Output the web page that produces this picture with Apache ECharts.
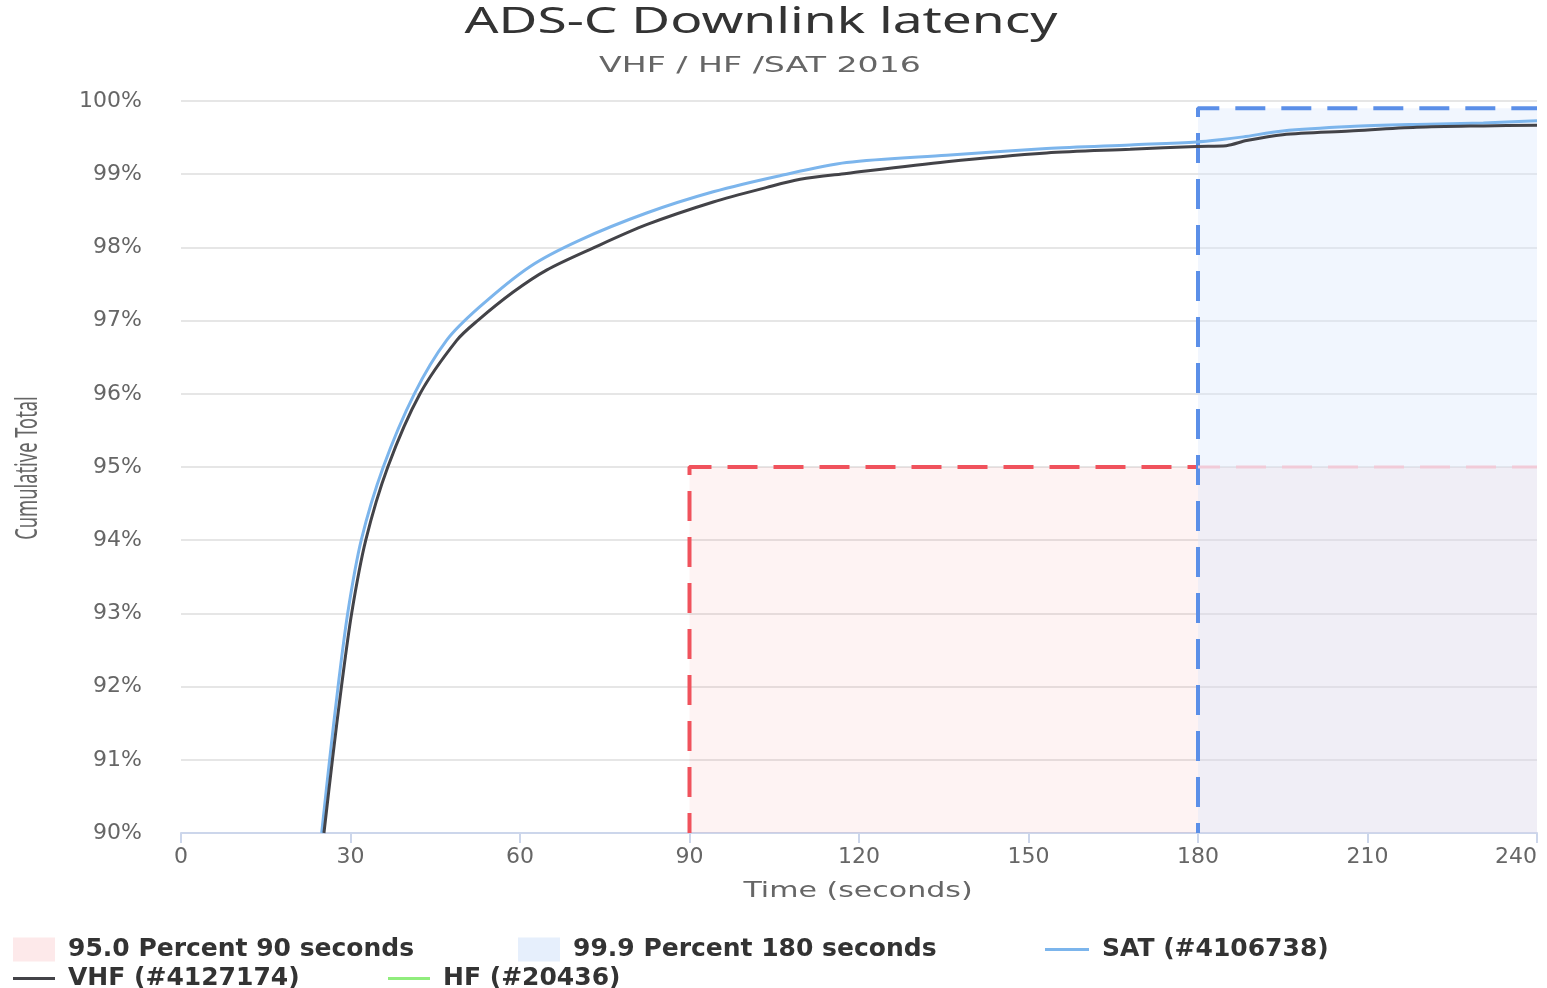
<!DOCTYPE html>
<html>
<head>
<meta charset="utf-8">
<title>ADS-C Downlink latency</title>
<script src="https://cdn.jsdelivr.net/npm/echarts@6/dist/echarts.min.js"></script>
<style>
  html, body { margin: 0; padding: 0; background: #fff; }
  #myEcharts { width: 1547px; height: 988px; }
</style>
</head>
<body>
<div id="myEcharts"></div>
<script>
// time axis ticks (seconds)
const xTicks = [0, 30, 60, 90, 120, 150, 180, 210, 240];

// VHF curve
const vhfTime = [25.3, 26.8, 28.4, 30.2, 32.7, 36.6, 42.3, 48.8, 52.5, 58.8, 64.7, 72.9, 82.4, 94.2, 103.7, 109.6, 117.8, 135.5, 153.2, 168, 179.8, 185, 188.6, 195, 206.9, 218.7, 230.5, 240];
const vhfPct = [90, 91, 92, 93, 94, 95, 96, 96.73, 97.0, 97.39, 97.69, 97.99, 98.31, 98.62, 98.82, 98.93, 99.01, 99.17, 99.29, 99.34, 99.38, 99.39, 99.46, 99.54, 99.59, 99.64, 99.66, 99.67];

// SAT curve
const satTime = [24.9, 26.3, 27.8, 29.5, 31.9, 35.8, 41.3, 47.0, 52.9, 61.8, 70.6, 82.4, 94.2, 106, 117.8, 135.5, 153.2, 168, 179.8, 183.9, 188, 195, 206.9, 218.7, 230.5, 240];
const satPct = [90, 91, 92, 93, 94, 95, 96, 96.73, 97.19, 97.74, 98.10, 98.47, 98.76, 98.98, 99.16, 99.26, 99.35, 99.40, 99.44, 99.47, 99.51, 99.59, 99.65, 99.68, 99.70, 99.73];

// HF curve: nothing visible inside the 90-100% window
const hfTime = [];
const hfPct = [];

// target bands
const p95Time = 90, p95Level = 95;
const p999Time = 180, p999Level = 99.9;
const xMin = 0, xMax = 240, yMin = 90, yMax = 100;

const legendNames = ['95.0 Percent 90 seconds', '99.9 Percent 180 seconds', 'SAT (#4106738)', 'VHF (#4127174)', 'HF (#20436)'];

function zip(xs, ys) {
    return xs.map((x, i) => [x, ys[i]]);
}

const font = 'DejaVu Sans, Verdana, sans-serif';

let chart = echarts.init(document.getElementById('myEcharts'));

function legendItem(name, left, top, icon, w, h, color) {
    return {
        data: [{ name: name, icon: icon, itemStyle: { color: color } }],
        left: left,
        top: top,
        itemWidth: w,
        itemHeight: h,
        selectedMode: false,
        textStyle: {
            fontFamily: font,
            fontWeight: 'bold',
            fontSize: 25,
            color: '#333',
            padding: [0, 0, 0, 8]
        }
    };
}

// stretched texts (the original picture is wider than its fonts)
function stretchedText(text, x, y, fontCss, color, sx, rot) {
    return {
        type: 'text',
        x: x,
        y: y,
        scaleX: sx,
        rotation: rot || 0,
        silent: true,
        style: {
            text: text,
            font: fontCss,
            fill: color,
            align: 'center',
            verticalAlign: 'middle'
        }
    };
}

chart.setOption({
    animation: false,
    backgroundColor: '#fff',
    graphic: [
        stretchedText('ADS-C Downlink latency', 761, 23, '36px "Noto Sans", sans-serif', '#333', 1.48),
        stretchedText('VHF / HF /SAT 2016', 760, 67, '21px "DejaVu Sans", sans-serif', '#666', 1.58),
        stretchedText('Time (seconds)', 858, 892, '21px "DejaVu Sans", sans-serif', '#666', 1.43),
        stretchedText('Cumulative Total', 28, 468, '30px "Noto Sans", sans-serif', '#666', 0.61, Math.PI / 2)
    ],
    legend: [
        legendItem(legendNames[0], 8, 932, 'rect', 42, 24, '#fde9ea'),
        legendItem(legendNames[1], 513, 932, 'rect', 42, 24, '#e6effc'),
        legendItem(legendNames[2], 1040, 932, 'rect', 44, 3, '#7cb5ec'),
        legendItem(legendNames[3], 8, 961, 'rect', 42, 3, '#434348'),
        legendItem(legendNames[4], 383, 961, 'rect', 42, 3, '#90ed7d')
    ],
    grid: {
        left: 181,
        right: 10,
        top: 101,
        bottom: 155,
        containLabel: false,
        outerBoundsMode: 'none'
    },
    xAxis: {
        type: 'value',
        min: xMin,
        max: xMax,
        interval: 30,
        axisLine: { show: true, lineStyle: { color: '#ccd6eb', width: 2 } },
        axisTick: { show: true, length: 10, lineStyle: { color: '#ccd6eb', width: 2 } },
        axisLabel: {
            fontFamily: font, fontSize: 22, color: '#666', margin: 13,
            alignMaxLabel: 'right',
            formatter: v => (xTicks.indexOf(v) >= 0 ? String(v) : '')
        },
        splitLine: { show: false }
    },
    yAxis: {
        type: 'value',
        min: yMin,
        max: yMax,
        interval: 1,
        axisLine: { show: false },
        axisTick: { show: false },
        axisLabel: { fontFamily: font, fontSize: 22, color: '#666', margin: 39, formatter: '{value}%' },
        splitLine: { lineStyle: { color: '#e6e6e6', width: 2 } }
    },
    series: [
        // 95% band fill
        {
            name: legendNames[0],
            type: 'line',
            data: [[p95Time, yMin], [p95Time, p95Level], [xMax, p95Level]],
            showSymbol: false,
            silent: true,
            itemStyle: { color: '#fde9ea' },
            lineStyle: { width: 0 },
            areaStyle: { color: 'rgba(240,80,90,0.1)', origin: 'start' },
            z: 1
        },
        // 95% border up to 180
        {
            type: 'line',
            data: [[p95Time, yMin], [p95Time, p95Level], [p999Time, p95Level]],
            showSymbol: false,
            silent: true,
            lineStyle: { color: '#f0525c', width: 4, type: [30, 16], dashOffset: 10 },
            z: 2
        },
        // 99.9% band
        {
            name: legendNames[1],
            type: 'line',
            data: [[p999Time, yMin], [p999Time, p999Level], [xMax, p999Level]],
            showSymbol: false,
            silent: true,
            itemStyle: { color: '#e6effc' },
            lineStyle: { color: '#5b8fe8', width: 4, type: [30, 16], dashOffset: 20 },
            areaStyle: { color: 'rgba(215,230,252,0.5)', origin: 'start' },
            z: 3
        },
        // faded 95% line inside the blue band
        {
            type: 'line',
            data: [[p999Time, p95Level], [xMax, p95Level]],
            showSymbol: false,
            silent: true,
            lineStyle: { color: '#f1cbd8', width: 3, type: [30, 16], dashOffset: 8 },
            z: 4
        },
        {
            name: legendNames[2],
            type: 'line',
            data: zip(satTime, satPct),
            smooth: 0.3,
            showSymbol: false,
            itemStyle: { color: '#7cb5ec' },
            lineStyle: { color: '#7cb5ec', width: 3 },
            z: 5
        },
        {
            name: legendNames[3],
            type: 'line',
            data: zip(vhfTime, vhfPct),
            smooth: 0.3,
            showSymbol: false,
            itemStyle: { color: '#434348' },
            lineStyle: { color: '#434348', width: 3 },
            z: 6
        },
        {
            name: legendNames[4],
            type: 'line',
            data: zip(hfTime, hfPct),
            showSymbol: false,
            itemStyle: { color: '#90ed7d' },
            lineStyle: { color: '#90ed7d', width: 3 },
            z: 4
        }
    ]
});

window.addEventListener('resize', () => {
    chart.resize();
});
</script>
</body>
</html>
